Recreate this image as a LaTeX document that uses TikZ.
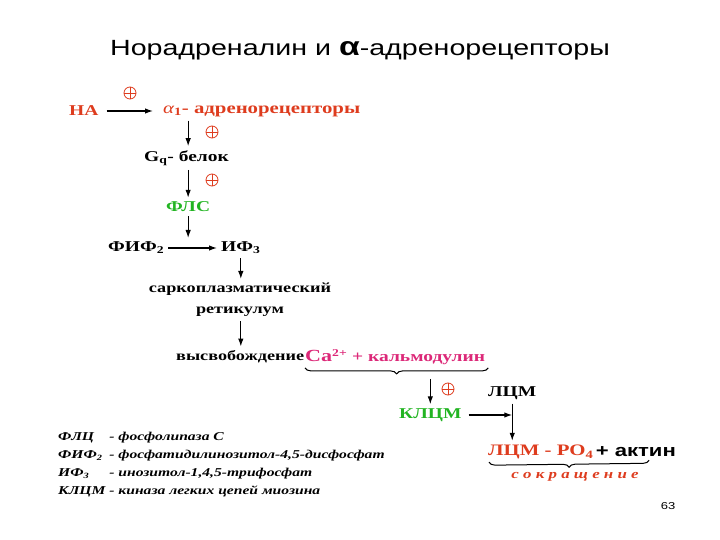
\documentclass[tikz,border=0pt]{standalone}
\usepackage{fontspec}
\setmainfont{Liberation Serif}[FakeStretch=1.3]
\setsansfont{Liberation Sans}[FakeStretch=1.3]
\usetikzlibrary{arrows.meta, decorations.pathreplacing, calc}

\definecolor{nared}{RGB}{222,60,30}
\definecolor{camag}{RGB}{220,40,120}
\definecolor{flsgreen}{RGB}{34,180,34}

\tikzset{
	item/.style = {font = \fontsize{15}{18}\selectfont\bfseries, inner sep = 1pt, anchor = west},
	small/.style = {font = \fontsize{14}{21}\selectfont\bfseries, inner sep = 1pt},
	plus/.style = {circle, draw = nared, line width = 0.8pt, minimum size = 12pt, inner sep = 0pt,
		path picture = {\draw [nared, line width = 0.8pt] (path picture bounding box.north) -- (path picture bounding box.south)
			(path picture bounding box.west) -- (path picture bounding box.east);}},
	arr/.style = {->, line width = 1.2pt, shorten < = 3pt, shorten > = 3pt},
	curly/.style = {decorate, decoration = {brace, mirror, amplitude = 6pt}, line width = 1pt}
}

\begin{document}
\begin{tikzpicture}[> = {Latex[length = 8pt, width = 5.5pt]}, x = 1pt, y = -1pt]
\useasboundingbox (0, 0) rectangle (720, 540);

	% Title
	
	\node [font = \fontsize{22}{26}\selectfont\sffamily] (title) at (360, 50)
		{Норадреналин и {\fontsize{26}{26}\selectfont\bfseries α}-адренорецепторы};
	
	% Receptor chain
	
	\node [item, text = nared] (na) at (68, 111) {НА};
	\node [item, text = nared, font = \fontsize{16}{18}\selectfont\bfseries] (alpha) at (162, 111)
		{{\mdseries\itshape α}\textsubscript{1}- адренорецепторы};
	\node [item] (gq) at (143, 158) {G\textsubscript{q}- белок};
	\node [item, text = flsgreen] (fls) at (165, 207) {ФЛС};
	\node [item] (fif) at (107, 248) {ФИФ\textsubscript{2}};
	\node [item] (if3) at (220, 248) {ИФ\textsubscript{3}};
	
	\node [plus] (p1) at (130, 93) {};
	\node [plus] (p2) at (212, 132) {};
	\node [plus] (p3) at (212, 180) {};
	
	\draw [arr, shorten < = 7pt, shorten > = 9pt] (na) -- (alpha);
	\draw [arr] (fls.north |- alpha.south) -- (fls.north |- gq.north);
	\draw [arr] (fls.north |- gq.south) -- (fls.north);
	\draw [arr] (fif) -- coordinate (mid) (if3);
	\draw [arr, shorten > = 10pt] (fls.south) -- (fls.south |- mid);
	
	% Calcium release
	
	\node [small, align = center] (sr) at (240, 300) {саркоплазматический\\ретикулум};
	\node [item, font = \fontsize{14}{18}\selectfont\bfseries] (rel) at (175, 357) {высвобождение};
	\node [item, text = camag] (ca) at (304, 357) {{\fontsize{17}{18}\selectfont Ca}\textsuperscript{2+} + кальмодулин};
	
	\draw [arr] (if3.south) -- (if3.south |- sr.north);
	\draw [arr] (if3.south |- sr.south) -- (if3.south |- rel.north);
	\draw [curly] ($(ca.south west) + (1, 2)$) -- ($(ca.south east) + (2, 2)$) coordinate [midway] (cabrace);
	
	% Myosin light chains
	
	\node [item, text = flsgreen] (klcm) at (398, 415) {КЛЦМ};
	\node [item] (lcm) at (487, 393) {ЛЦМ};
	\node [item, text = nared, font = \fontsize{16}{18}\selectfont\bfseries] (lcmpo) at (487, 452) {ЛЦМ - РО\textsubscript{4}};
	\node [item, font = \fontsize{17}{18}\selectfont\sffamily\bfseries] (aktin) at (lcmpo.east) {+ актин};
	\node [plus] (p4) at (448, 389) {};
	
	\draw [arr] ($(klcm.north |- cabrace) + (0, 8)$) -- (klcm.north);
	\draw [arr] (lcm.south) -- (lcm.south |- lcmpo.north);
	\draw [arr, shorten < = 6pt, shorten > = 0pt] (klcm.east) -- (klcm.east -| lcm.south);
	\draw [curly] ($(lcmpo.south west) + (2, 2)$) -- ($(aktin.south east) + (-28, 2)$)
		node [midway, below = 7pt, xshift = 6pt, text = nared, font = \fontsize{13}{14}\selectfont\bfseries\itshape] (sokr)
		{с о к р а щ е н и е};
	
	% Legend
	
	\node [anchor = north west, inner sep = 0pt, font = \fontsize{12}{18}\selectfont\bfseries\itshape] (legend) at (58, 428)
		{\begin{tabular}{@{}l@{ }l@{}}
			ФЛЦ & - фосфолипаза С\\
			ФИФ\textsubscript{2} & - фосфатидилинозитол-4,5-дисфосфат\\
			ИФ\textsubscript{3} & - инозитол-1,4,5-трифосфат\\
			КЛЦМ & - киназа легких цепей миозина
		\end{tabular}};
	
	% Page number
	
	\node [font = \fontsize{10}{12}\selectfont\sffamily] (page) at (668, 506) {63};

\end{tikzpicture}
\end{document}
